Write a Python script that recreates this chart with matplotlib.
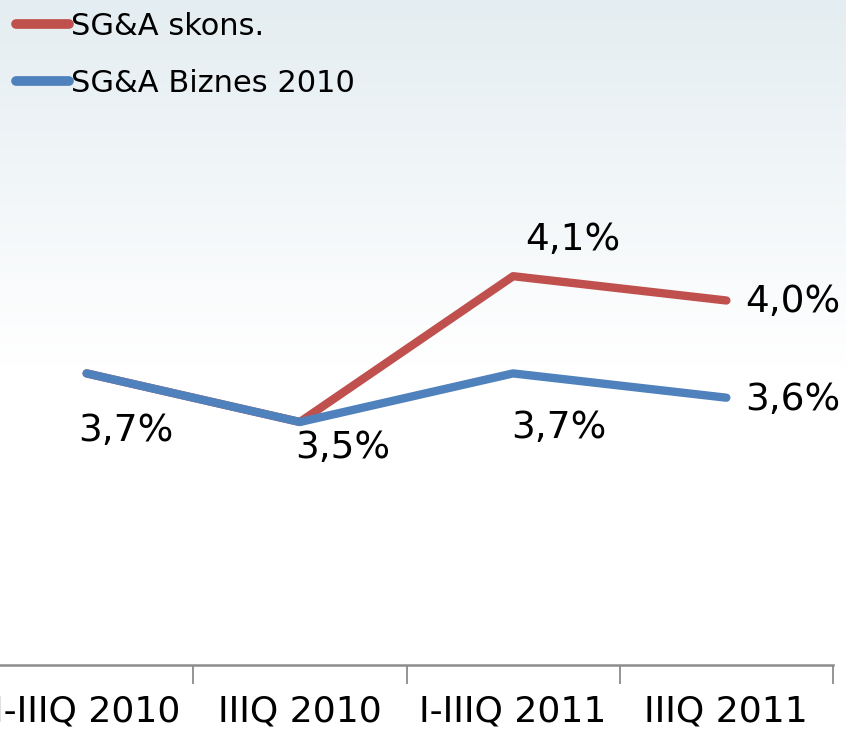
import numpy as np
import matplotlib
matplotlib.use("Agg")
import matplotlib.pyplot as plt
from matplotlib.colors import LinearSegmentedColormap

categories = ["I-IIIQ 2010", "IIIQ 2010", "I-IIIQ 2011", "IIIQ 2011"]
sga_skons = [3.7, 3.5, 4.1, 4.0]
sga_biznes = [3.7, 3.5, 3.7, 3.6]
series_names = ["SG&A skons.", "SG&A Biznes 2010"]

def fmt(v):
    return f"{v:.1f}%".replace(".", ",")

plt.rcParams['font.family'] = ['DejaVu Sans']

W, H, DPI = 846, 730, 100
fig = plt.figure(figsize=(W / DPI, H / DPI), dpi=DPI)

# background gradient
bg = fig.add_axes([0, 0, 1, 1], zorder=-10)
grad = np.linspace(0, 1, 256).reshape(-1, 1)
cmap = LinearSegmentedColormap.from_list("g", [(0, "#e4edf1"), (0.5, "#ffffff"), (1, "#ffffff")])
bg.imshow(grad, aspect="auto", cmap=cmap, extent=[0, 1, 0, 1], origin="upper")
bg.axis("off")

left = -20 / W
width = 853 / W
bottom = (H - 665) / H
height = 486 / H
ax = fig.add_axes([left, bottom, width, height])
ax.patch.set_alpha(0)

x = np.arange(len(categories))
red = "#c0504d"
blue = "#4f81bd"
l1, = ax.plot(x, sga_skons, color=red, lw=6, solid_capstyle="round", solid_joinstyle="round", zorder=2)
l2, = ax.plot(x, sga_biznes, color=blue, lw=6, solid_capstyle="round", solid_joinstyle="round", zorder=3)

ax.set_xlim(-0.5, 3.5)
ax.set_ylim(2.5, 4.5)
ax.set_yticks([])
for s in ["top", "right", "left"]:
    ax.spines[s].set_visible(False)
ax.spines["bottom"].set_color("#8c8c8c")
ax.spines["bottom"].set_linewidth(1.8)
ax.set_xticks(np.arange(-0.5, 3.6, 1.0))
ax.set_xticklabels([])
ax.tick_params(axis="x", length=14, width=1.3, color="#8c8c8c")
for i, c in enumerate(categories):
    ax.annotate(c, (i, 2.5), xytext=(0, -47), textcoords="offset pixels",
                ha="center", va="center", fontsize=26)

lab_size = 27
blue_offsets = [(39, -58), (43, -26), (46, -55), (66, -2)]
for i, v in enumerate(sga_biznes):
    ax.annotate(fmt(v), (i, v), xytext=blue_offsets[i], textcoords="offset pixels",
                ha="center", va="center", fontsize=lab_size)
red_offsets = {2: (60, 36), 3: (66, -2)}
for i, off in red_offsets.items():
    ax.annotate(fmt(sga_skons[i]), (i, sga_skons[i]), xytext=off, textcoords="offset pixels",
                ha="center", va="center", fontsize=lab_size)

leg = fig.legend([l1, l2], series_names, loc="upper left",
                 bbox_to_anchor=(16 / W, (H - 12) / H),
                 frameon=False, fontsize=22, handlelength=1.75, handletextpad=0.06,
                 labelspacing=0.9, borderaxespad=0, borderpad=0)
for h in leg.legend_handles:
    h.set_linewidth(7)

fig.savefig("out.png", dpi=DPI)
